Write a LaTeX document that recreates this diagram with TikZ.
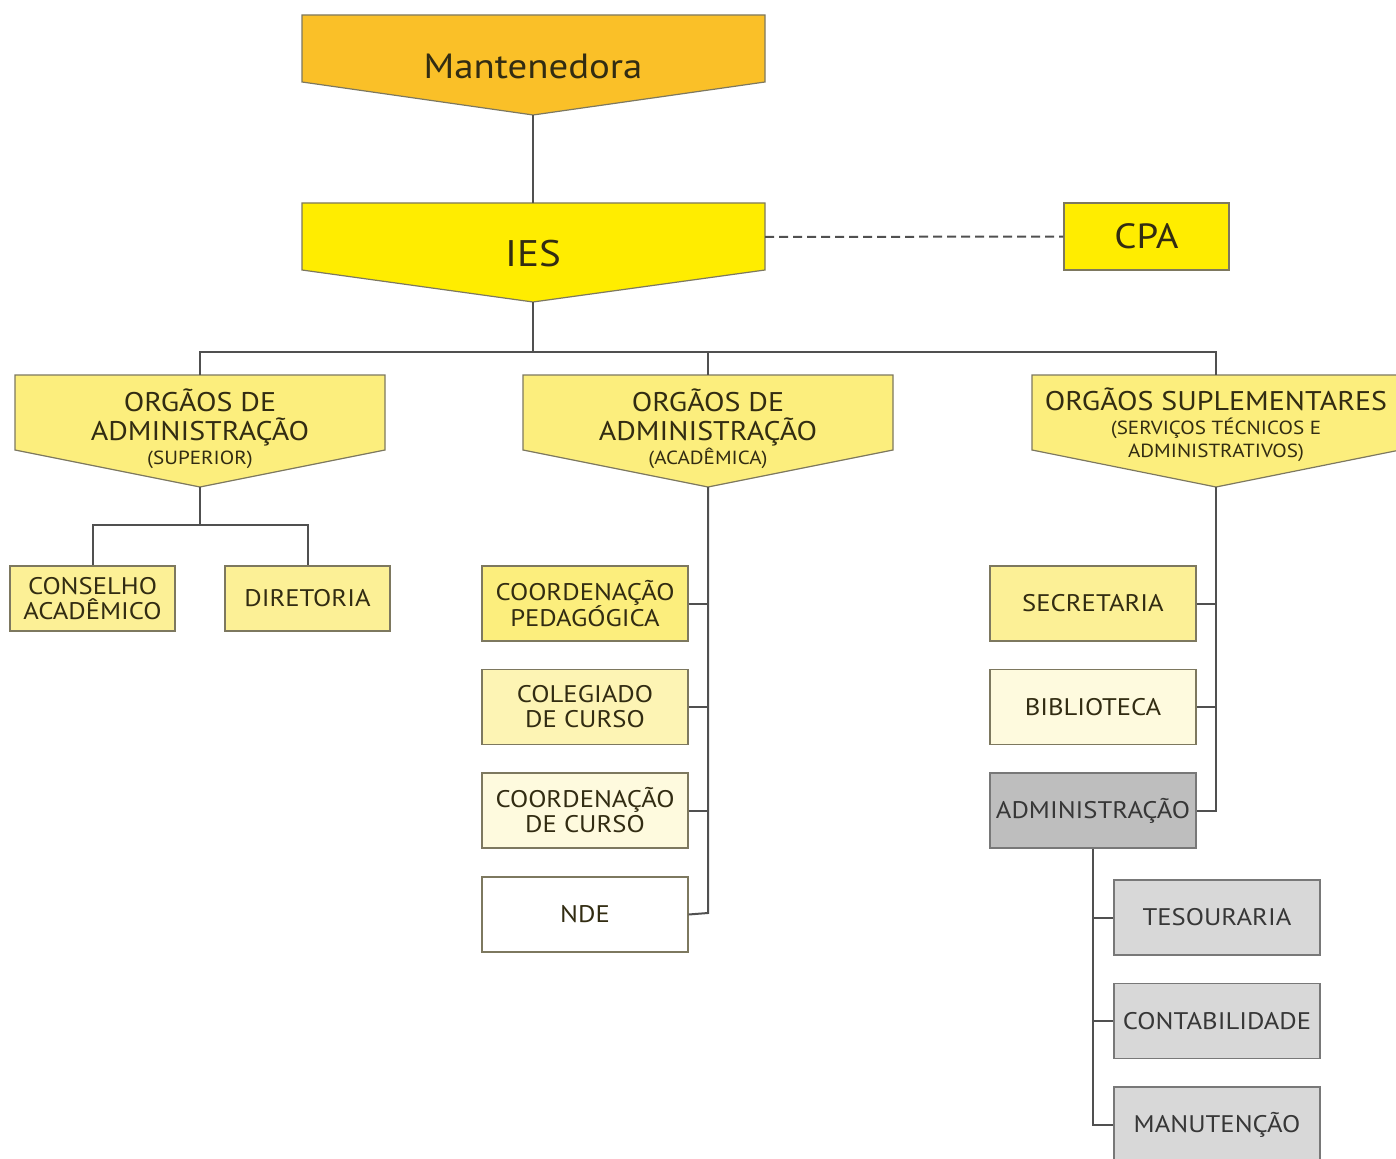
\documentclass[tikz,border=0pt]{standalone}
\usepackage{fontspec}
\setmainfont{PT Sans}[FakeStretch=1.11]
\definecolor{orangey}{RGB}{250,192,40}
\definecolor{yel}{RGB}{255,237,0}
\definecolor{ly1}{RGB}{252,238,125}
\definecolor{ly2}{RGB}{252,240,150}
\definecolor{ly3}{RGB}{253,244,180}
\definecolor{ly4}{RGB}{254,250,222}
\definecolor{gr1}{RGB}{190,190,190}
\definecolor{gr2}{RGB}{216,216,216}
\definecolor{edge}{RGB}{125,120,95}
\definecolor{gedge}{RGB}{120,120,120}
\definecolor{lin}{RGB}{80,80,80}
\definecolor{txt}{RGB}{50,44,18}
\definecolor{gtxt}{RGB}{55,55,55}
\begin{document}
\begin{tikzpicture}[x=1pt,y=-1pt,
  shapeline/.style={draw=edge,line width=1.2pt},
  conn/.style={draw=lin,line width=2pt},
  lbl/.style={text=txt,align=center,inner sep=0pt},
  ybox/.style={draw=edge,line width=1.2pt,minimum width=206pt,minimum height=75pt,inner sep=0pt,align=center,text=txt,font=\fontsize{24}{25}\selectfont},
  gbox/.style={ybox,draw=gedge,text=gtxt}
]
\useasboundingbox (0,0) rectangle (1396,1158);
% Mantenedora
\fill[orangey] (302,15) -- (765,15) -- (765,82) -- (533,115) -- (302,82) -- cycle;
\draw[shapeline] (302,15) -- (765,15) -- (765,82) -- (533,115) -- (302,82) -- cycle;
\node[lbl,font=\fontsize{35}{40}\selectfont] (mant) at (533,66) {Mantenedora};
\coordinate (mantP) at (533,115);
% IES
\fill[yel] (302,203) -- (765,203) -- (765,270) -- (533,302) -- (302,270) -- cycle;
\draw[shapeline] (302,203) -- (765,203) -- (765,270) -- (533,302) -- (302,270) -- cycle;
\node[lbl,font=\fontsize{37}{40}\selectfont] (ies) at (533,254) {IES};
\coordinate (iesT) at (533,203);
\coordinate (iesP) at (533,302);
\coordinate (iesR) at (765,237);
% CPA
\node[draw=edge,line width=1.2pt,fill=yel,minimum width=165pt,minimum height=67pt,inner sep=0pt,text=txt,font=\fontsize{35}{40}\selectfont] (cpa) at (1146.5,236.5) {CPA};
% Pentagons level 2
\foreach \l/\r/\c in {15/385/200,523/893/708,1032/1400/1216}{
  \fill[ly1] (\l,375) -- (\r,375) -- (\r,450) -- (\c,487) -- (\l,450) -- cycle;
  \draw[shapeline] (\l,375) -- (\r,375) -- (\r,450) -- (\c,487) -- (\l,450) -- cycle;
}
\coordinate (p1T) at (200,375); \coordinate (p1P) at (200,487);
\coordinate (p2T) at (708,375); \coordinate (p2P) at (708,487);
\coordinate (p3T) at (1216,375); \coordinate (p3P) at (1216,487);
\node[lbl,font=\fontsize{27}{29}\selectfont] (sup) at (200,429) {ORGÃOS DE\\ADMINISTRAÇÃO\\[-5pt]\fontsize{19}{22}\selectfont (SUPERIOR)};
\node[lbl,font=\fontsize{27}{29}\selectfont] (acad) at (708,429) {ORGÃOS DE\\ADMINISTRAÇÃO\\[-5pt]\fontsize{19}{22}\selectfont (ACADÊMICA)};
\node[lbl,font=\fontsize{27}{29}\selectfont] (supl) at (1216,425) {ORGÃOS SUPLEMENTARES\\[-5pt]\fontsize{19}{23}\selectfont (SERVIÇOS TÉCNICOS E\\[-6pt]\fontsize{19}{23}\selectfont ADMINISTRATIVOS)};
% connectors top
\draw[conn] (mantP) -- (iesT);
\draw[conn,dash pattern=on 9pt off 5pt] (iesR) -- (cpa.west);
\draw[conn] (iesP) -- (533,352);
\draw[conn] (p1T) -- (200,352) -- (1216,352) -- (p3T);
\draw[conn] (708,352) -- (p2T);
% superior branch
\node[ybox,fill=ly2,minimum width=165pt,minimum height=65pt] (cons) at (92.5,598.5) {CONSELHO\\ACADÊMICO};
\node[ybox,fill=ly2,minimum width=165pt,minimum height=65pt] (dir) at (307.5,598.5) {DIRETORIA};
\draw[conn] (p1P) -- (200,525);
\draw[conn] (cons.north) -- (92.5,525) -- (307.5,525) -- (dir.north);
% academic branch
\node[ybox,fill=ly1] (cped) at (585,603.5) {COORDENAÇÃO\\PEDAGÓGICA};
\node[ybox,fill=ly3] (col) at (585,707) {COLEGIADO\\DE CURSO};
\node[ybox,fill=ly4] (ccur) at (585,810.5) {COORDENAÇÃO\\DE CURSO};
\node[ybox,fill=white] (nde) at (585,914.5) {NDE};
\draw[conn] (p2P) -- (708,913) -- (nde.east);
\draw[conn] (cped.east) -- (708,603.5);
\draw[conn] (col.east) -- (708,707);
\draw[conn] (ccur.east) -- (708,810.5);
% supplementary branch
\node[ybox,fill=ly2] (sec) at (1093,603.5) {SECRETARIA};
\node[ybox,fill=ly4] (bib) at (1093,707) {BIBLIOTECA};
\node[gbox,fill=gr1] (adm) at (1093,810.5) {ADMINISTRAÇÃO};
\draw[conn] (p3P) -- (1216,810.5) -- (adm.east);
\draw[conn] (sec.east) -- (1216,603.5);
\draw[conn] (bib.east) -- (1216,707);
% administration sub
\node[gbox,fill=gr2] (tes) at (1217,917.5) {TESOURARIA};
\node[gbox,fill=gr2] (cont) at (1217,1021) {CONTABILIDADE};
\node[gbox,fill=gr2] (man) at (1217,1124.5) {MANUTENÇÃO};
\draw[conn] (adm.south) -- (1093,1124.5) -- (man.west);
\draw[conn] (tes.west) -- (1093,917.5);
\draw[conn] (cont.west) -- (1093,1021);
\end{tikzpicture}
\end{document}
